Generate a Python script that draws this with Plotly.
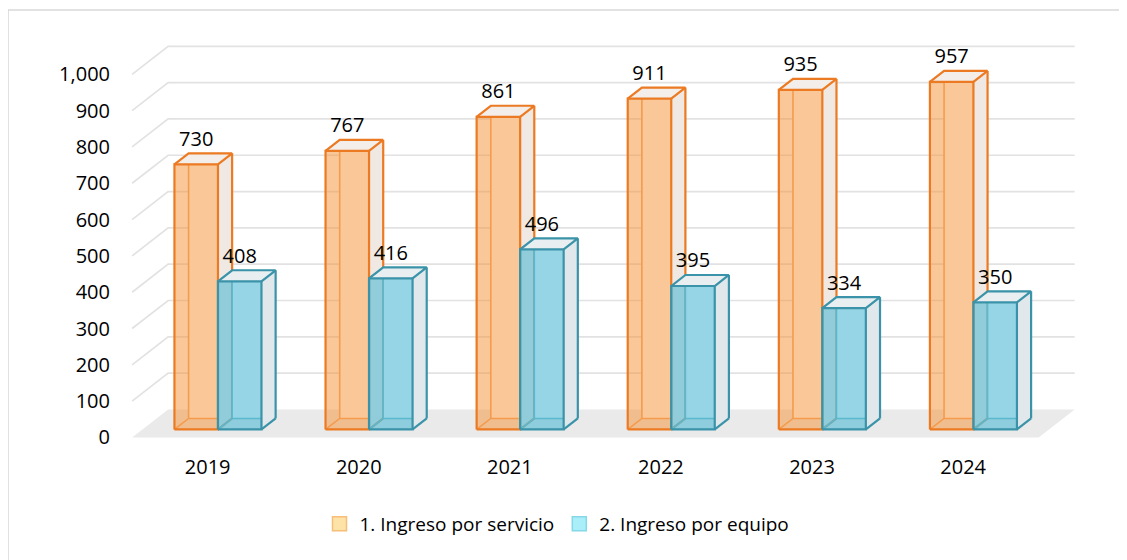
import plotly.graph_objects as go

# ---------------- data ----------------
years = ["2019", "2020", "2021", "2022", "2023", "2024"]
servicio = [730, 767, 861, 911, 935, 957]
equipo = [408, 416, 496, 395, 334, 350]
series_names = ["1. Ingreso por servicio", "2. Ingreso por equipo"]
y_ticks = [0, 100, 200, 300, 400, 500, 600, 700, 800, 900, 1000]

# ---------------- geometry (pseudo-3D, oblique projection) ----------------
OFF = 8                       # page body margin
W, H = 1127 - OFF, 560 - OFF
PX_X = 151.0          # px per category
PX_Y = 0.3627         # px per value unit
DEPTH_X = 36.0 / PX_X         # full depth shift in x (category units)
DEPTH_Y = 28.0 / PX_Y         # full depth shift in y (value units)
D_FRONT, D_BACK = 0.286, 0.679
HALF = 0.288
X_RANGE = [-0.6, 5.8]
Y_RANGE = [-40, 1100]
FLOOR_LEFT_PX = 132.5 - OFF
FLOOR_FRONT_PX = 437 - OFF
ML = FLOOR_LEFT_PX - (-0.5 - X_RANGE[0]) * PX_X
PW = (X_RANGE[1] - X_RANGE[0]) * PX_X
MR = W - ML - PW
MT = FLOOR_FRONT_PX - Y_RANGE[1] * PX_Y
PH = (Y_RANGE[1] - Y_RANGE[0]) * PX_Y
MB = H - MT - PH

FONT = "Open Sans"
fig = go.Figure()

# floor
n = len(years)
fx = [-0.5, n - 0.5, n - 0.5 + DEPTH_X, -0.5 + DEPTH_X, -0.5]
fy = [0, 0, DEPTH_Y, DEPTH_Y, 0]
fig.add_trace(go.Scatter(x=fx, y=fy, mode="lines", fill="toself",
                         fillcolor="#EAEAEA", line=dict(width=0),
                         hoverinfo="skip", showlegend=False))
# gridlines (side wall + back wall)
gx, gy = [], []
for v in y_ticks[1:]:
    gx += [-0.5, -0.5 + DEPTH_X, n - 0.5 + DEPTH_X, None]
    gy += [v, v + DEPTH_Y, v + DEPTH_Y, None]
fig.add_trace(go.Scatter(x=gx, y=gy, mode="lines",
                         line=dict(color="#E2E2E2", width=1.7),
                         hoverinfo="skip", showlegend=False))


def bar_traces(values, x_left_off, x_right_off, edge, hidden_edge, front_fill,
               side_fill, top_fill):
    bx, by_ = [], []
    sx, sy = [], []
    tx, ty = [], []
    frx, fry = [], []
    hx, hy = [], []
    ex, ey = [], []
    fxs = D_FRONT * DEPTH_X
    fys = D_FRONT * DEPTH_Y
    bxs = D_BACK * DEPTH_X
    bys = D_BACK * DEPTH_Y
    for i, v in enumerate(values):
        xl, xr = i + x_left_off, i + x_right_off
        xlF, xrF, xlB, xrB = xl + fxs, xr + fxs, xl + bxs, xr + bxs
        y0F, y1F, y0B, y1B = fys, v + fys, bys, v + bys
        bx += [xlB, xrB, xrB, xlB, xlB, None]
        by_ += [y0B, y0B, y1B, y1B, y0B, None]
        sx += [xrF, xrB, xrB, xrF, xrF, None]
        sy += [y0F, y0B, y1B, y1F, y0F, None]
        tx += [xlF, xrF, xrB, xlB, xlF, None]
        ty += [y1F, y1F, y1B, y1B, y1F, None]
        frx += [xlF, xrF, xrF, xlF, xlF, None]
        fry += [y0F, y0F, y1F, y1F, y0F, None]
        hx += [xlF, xlB, xrB, None, xlB, xlB, None]
        hy += [y0F, y0B, y0B, None, y0B, y1B, None]
        ex += [xlF, xrF, xrF, xlF, xlF, None,
               xlF, xlB, xrB, xrF, None,
               xrB, xrB, None, xrF, xrB, None]
        ey += [y0F, y0F, y1F, y1F, y0F, None,
               y1F, y1B, y1B, y1F, None,
               y1B, y0B, None, y0F, y0B, None]
    common = dict(mode="lines", hoverinfo="skip", showlegend=False)
    return [
        go.Scatter(x=bx, y=by_, fill="toself", fillcolor="#FFFFFF",
                   line=dict(width=0), **common),
        go.Scatter(x=hx, y=hy, line=dict(color=hidden_edge, width=1.6), **common),
        go.Scatter(x=sx, y=sy, fill="toself", fillcolor=side_fill,
                   line=dict(width=0), **common),
        go.Scatter(x=tx, y=ty, fill="toself", fillcolor=top_fill,
                   line=dict(width=0), **common),
        go.Scatter(x=frx, y=fry, fill="toself", fillcolor=front_fill,
                   line=dict(width=0), **common),
        go.Scatter(x=ex, y=ey, line=dict(color=edge, width=2.2), **common),
    ]


for t in bar_traces(servicio, -HALF, 0.0, "#EC7A22", "#F3A468",
                    "rgba(245,145,50,0.5)", "#EFE8E3", "#F3EEEA"):
    fig.add_trace(t)
for t in bar_traces(equipo, 0.0, HALF, "#3A93A8", "#6AB6C8",
                    "rgba(80,185,212,0.6)", "#E1E8EC", "#E9EEF1"):
    fig.add_trace(t)

# value labels
lab_dy = D_BACK * DEPTH_Y + 12.5 / PX_Y
lab_dx = D_FRONT * DEPTH_X
for vals, off in ((servicio, -HALF / 2), (equipo, HALF / 2)):
    fig.add_trace(go.Scatter(
        x=[i + off + lab_dx for i in range(n)],
        y=[v + lab_dy for v in vals],
        mode="text", text=[str(v) for v in vals],
        textposition="middle center",
        textfont=dict(family=FONT, size=20, color="#000000"),
        hoverinfo="skip", showlegend=False))

# legend entries
fig.add_trace(go.Scatter(x=[None], y=[None], mode="markers", name=series_names[0],
                         marker=dict(symbol="square", size=14, color="#FDE3A8",
                                     line=dict(color="#F6BE78", width=1.5))))
fig.add_trace(go.Scatter(x=[None], y=[None], mode="markers", name=series_names[1],
                         marker=dict(symbol="square", size=14, color="#A9EEF9",
                                     line=dict(color="#86D8E8", width=1.5))))

# outer chart border (only top/left visible in the frame)
bx0 = (8 - OFF - ML) / PW + 0.5 / PW
by1 = 1 + (MT - (10 - OFF)) / PH
fig.add_shape(type="rect", xref="paper", yref="paper",
              x0=bx0, x1=(W + 20 - ML) / PW, y0=-(MB + 20) / PH, y1=by1,
              line=dict(color="#D9D9D9", width=1.5), fillcolor="rgba(0,0,0,0)",
              layer="below")

fig.update_layout(
    width=W, height=H, autosize=False,
    margin=dict(l=ML, r=MR, t=MT, b=MB, pad=0),
    paper_bgcolor="white", plot_bgcolor="white",
    font=dict(family=FONT, size=20, color="#000000"),
    xaxis=dict(range=X_RANGE, showgrid=False, zeroline=False, showline=False,
               tickmode="array", tickvals=list(range(n)), ticktext=years,
               ticks="", ticklabelstandoff=1,
               tickfont=dict(family=FONT, size=20, color="#000000")),
    yaxis=dict(range=Y_RANGE, showgrid=False, zeroline=False, showline=False,
               tickmode="array", tickvals=y_ticks,
               ticktext=[f"{v:,}" for v in y_ticks],
               ticks="", ticklabelstandoff=6,
               tickfont=dict(family=FONT, size=20, color="#000000")),
    legend=dict(orientation="h", xref="container", yref="container",
                x=(557 - OFF) / W, xanchor="center",
                y=1 - (524 - OFF) / H, yanchor="middle",
                font=dict(family=FONT, size=19, color="#000000"),
                itemwidth=30, bgcolor="rgba(0,0,0,0)"),
    showlegend=True,
)

fig.write_html("out.html")
